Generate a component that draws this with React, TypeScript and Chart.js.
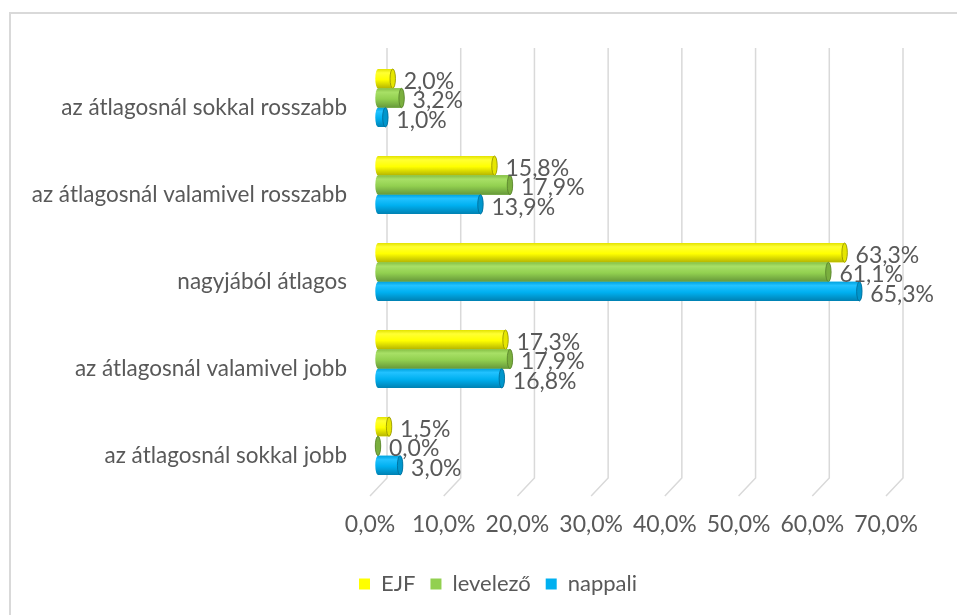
import React, { useEffect, useRef } from 'react';
import { Chart, registerables } from 'chart.js';

Chart.register(...registerables);

const categories = [
  'az átlagosnál sokkal rosszabb',
  'az átlagosnál valamivel rosszabb',
  'nagyjából átlagos',
  'az átlagosnál valamivel jobb',
  'az átlagosnál sokkal jobb',
];
const seriesNames = ['EJF', 'levelező', 'nappali'];
const ejfValues = [2.0, 15.8, 63.3, 17.3, 1.5];
const levelezoValues = [3.2, 17.9, 61.1, 17.9, 0.0];
const nappaliValues = [1.0, 13.9, 65.3, 16.8, 3.0];
const axisMin = 0;
const axisMax = 70;
const axisStep = 10;

const FONT = 'Lato';
const TEXT = '#595959';

const palettes = [
  { main: '#ffff00', edge: '#e2e200', light: '#ffff33', dark: '#b5b500', face: '#e6e600', line: '#8f8f00' },
  { main: '#92d050', edge: '#86c046', light: '#a8e066', dark: '#66983a', face: '#7aaf3e', line: '#557f2a' },
  { main: '#00b0f0', edge: '#00a2de', light: '#22c2ff', dark: '#0081b2', face: '#0096cc', line: '#006a94' },
];

const fmt = (v: number) => v.toFixed(1).replace('.', ',') + '%';

const gridPlugin = {
  id: 'grid3d',
  beforeDatasetsDraw(chart: any) {
    const { ctx, chartArea } = chart;
    const xs = chart.scales.x;
    ctx.save();
    ctx.strokeStyle = '#d9d9d9';
    ctx.lineWidth = 1.5;
    for (const t of xs.ticks) {
      const px = xs.getPixelForValue(t.value);
      ctx.beginPath();
      ctx.moveTo(px + 9, chartArea.top - 6.5);
      ctx.lineTo(px + 9, chartArea.bottom - 11.5);
      ctx.lineTo(px - 8, chartArea.bottom + 6.5);
      ctx.stroke();
    }
    ctx.restore();
  },
};

// shift the legend so that it sits centred under the plot like the original
const legendShiftPlugin = {
  id: 'legendShift',
  afterLayout(chart: any) {
    const lg = chart.legend;
    if (!lg) return;
    lg.left += 46;
    lg.right += 46;
  },
};

function drawCylinder(ctx: CanvasRenderingContext2D, x0: number, x1: number, yc: number, h: number, p: any) {
  const ry = h / 2;
  const rx = Math.max(2.5, h * 0.14);
  const yt = yc - ry;
  const yb = yc + ry;
  const g = ctx.createLinearGradient(0, yt, 0, yb);
  g.addColorStop(0, p.edge);
  g.addColorStop(0.2, p.light);
  g.addColorStop(0.55, p.main);
  g.addColorStop(1, p.dark);
  ctx.beginPath();
  ctx.moveTo(x0, yt);
  ctx.lineTo(x1, yt);
  ctx.ellipse(x1, yc, rx, ry, 0, -Math.PI / 2, Math.PI / 2, false);
  ctx.lineTo(x0, yb);
  ctx.ellipse(x0, yc, rx, ry, 0, Math.PI / 2, (3 * Math.PI) / 2, false);
  ctx.closePath();
  ctx.fillStyle = g;
  ctx.fill();
  ctx.beginPath();
  ctx.ellipse(x1, yc, rx, ry, 0, 0, Math.PI * 2);
  ctx.fillStyle = p.face;
  ctx.fill();
  ctx.lineWidth = 0.8;
  ctx.strokeStyle = p.line;
  ctx.stroke();
}

const cylinderPlugin = {
  id: 'cylinders',
  afterDatasetsDraw(chart: any) {
    const { ctx } = chart;
    ctx.save();
    const labels: any[] = [];
    chart.data.datasets.forEach((ds: any, di: number) => {
      const meta = chart.getDatasetMeta(di);
      if (meta.hidden) return;
      meta.data.forEach((el: any, i: number) => {
        const { x, y, base, height } = el.getProps(['x', 'y', 'base', 'height'], true);
        drawCylinder(ctx, base, x, y, height, palettes[di]);
        labels.push({ x: x + 11, y: y + 3, text: fmt(ds.data[i]) });
      });
    });
    ctx.fillStyle = TEXT;
    ctx.font = `23px ${FONT}`;
    ctx.textBaseline = 'middle';
    ctx.textAlign = 'left';
    for (const l of labels) ctx.fillText(l.text, l.x, l.y);
    ctx.restore();
  },
};

export default function App() {
  const ref = useRef<HTMLCanvasElement | null>(null);
  useEffect(() => {
    if (!ref.current) return;
    const seriesValues = [ejfValues, levelezoValues, nappaliValues];
    const chart = new Chart(ref.current, {
      type: 'bar',
      data: {
        labels: categories,
        datasets: seriesNames.map((name, i) => ({
          label: name,
          data: seriesValues[i],
          backgroundColor: palettes[i].main,
          borderWidth: 0,
          categoryPercentage: 0.667,
          barPercentage: 1,
        })),
      },
      options: {
        indexAxis: 'y',
        animation: false,
        responsive: false,
        layout: { padding: { left: 10, right: 63, top: 54.5, bottom: 10 } },
        scales: {
          x: {
            min: axisMin,
            max: axisMax,
            grid: { display: false, drawTicks: false },
            border: { display: false },
            ticks: {
              stepSize: axisStep,
              padding: 21,
              labelOffset: -8,
              color: TEXT,
              font: { family: FONT, size: 23 },
              callback: (v: any) => fmt(Number(v)),
            },
            afterFit: (s: any) => { s.height = 68.5; },
          },
          y: {
            grid: { display: false, drawTicks: false },
            border: { display: false },
            ticks: {
              padding: 31,
              labelOffset: 10,
              color: TEXT,
              font: { family: FONT, size: 22.5 },
            },
            afterFit: (s: any) => { s.width = 368; },
          },
        },
        plugins: {
          legend: {
            position: 'bottom',
            labels: {
              boxWidth: 11,
              boxHeight: 11,
              padding: 15,
              color: TEXT,
              font: { family: FONT, size: 22 },
            },
          },
          tooltip: { enabled: false },
        },
      },
      plugins: [gridPlugin, cylinderPlugin, legendShiftPlugin],
    });
    return () => chart.destroy();
  }, []);

  return (
    <div style={{ position: 'absolute', left: 0, top: 0, width: 957, height: 615, overflow: 'hidden', background: '#fff' }}>
      <div style={{ position: 'absolute', left: 9, top: 12, width: 1000, height: 700, border: '2px solid #d9d9d9', boxSizing: 'border-box' }} />
      <canvas ref={ref} width={957} height={615} style={{ position: 'absolute', left: 0, top: 0 }} />
    </div>
  );
}
